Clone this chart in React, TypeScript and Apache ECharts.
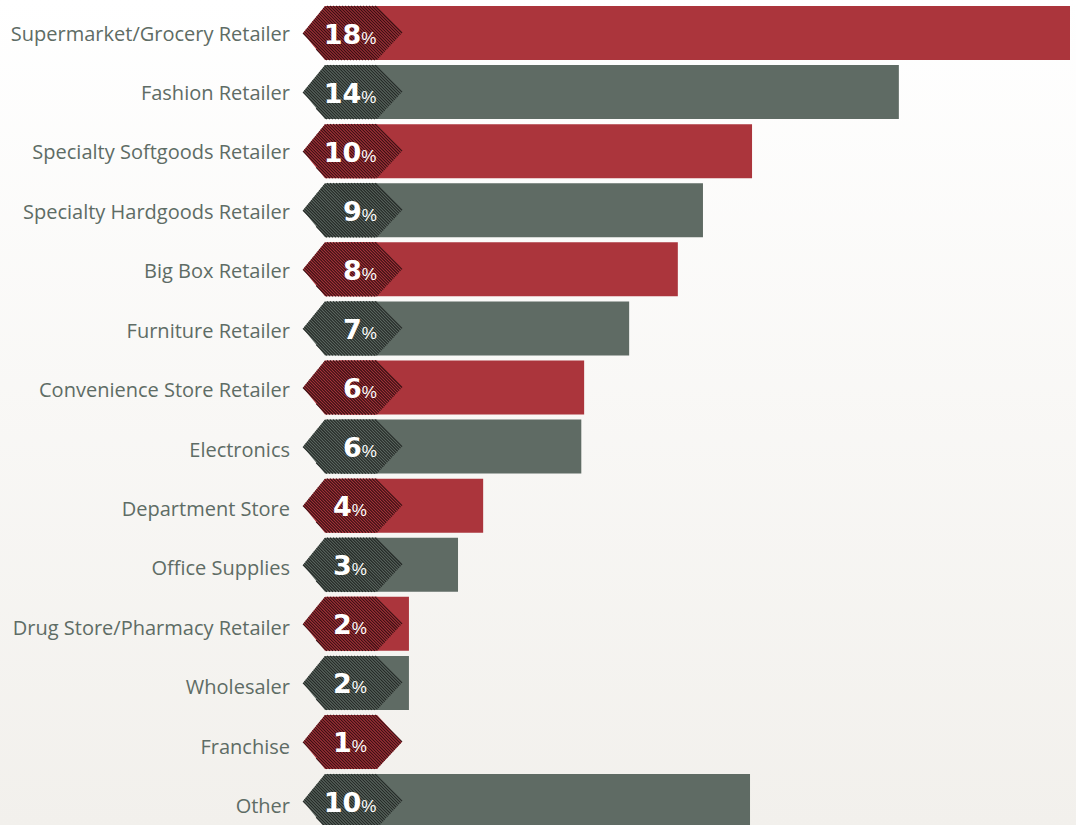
import React, { useEffect, useRef } from "react";
import * as echarts from "echarts";

const categories = [
  "Supermarket/Grocery Retailer",
  "Fashion Retailer",
  "Specialty Softgoods Retailer",
  "Specialty Hardgoods Retailer",
  "Big Box Retailer",
  "Furniture Retailer",
  "Convenience Store Retailer",
  "Electronics",
  "Department Store",
  "Office Supplies",
  "Drug Store/Pharmacy Retailer",
  "Wholesaler",
  "Franchise",
  "Other",
];
// estimated underlying shares (bar lengths)
const values = [18.0, 13.78, 10.16, 8.95, 8.33, 7.13, 6.02, 5.95, 3.53, 2.91, 1.7, 1.7, 0.9, 10.11];
// rounded labels shown on the badges
const labels = ["18", "14", "10", "9", "8", "7", "6", "6", "4", "3", "2", "2", "1", "10"];

// layout-only: horizontal nudge of badge text per row (px)
const BADGE_TEXT_SHIFT = [0, 0, 0, 10, 10, 10, 10, 10, 0, 0, 0, 0, 0, 0];

const RED = "#ab353c";
const GRAY = "#5f6b64";
const RED_DARK = "#3a1013";
const GRAY_DARK = "#242926";

function clipLine(p0: number[], d: number[], poly: number[][]) {
  let tmin = -1e9;
  let tmax = 1e9;
  const cx = poly.reduce((s, p) => s + p[0], 0) / poly.length;
  const cy = poly.reduce((s, p) => s + p[1], 0) / poly.length;
  for (let i = 0; i < poly.length; i++) {
    const a = poly[i];
    const b = poly[(i + 1) % poly.length];
    let nx = -(b[1] - a[1]);
    let ny = b[0] - a[0];
    if (nx * (cx - a[0]) + ny * (cy - a[1]) < 0) {
      nx = -nx;
      ny = -ny;
    }
    const num = nx * (p0[0] - a[0]) + ny * (p0[1] - a[1]);
    const den = nx * d[0] + ny * d[1];
    if (Math.abs(den) < 1e-9) {
      if (num < 0) return null;
      continue;
    }
    const t = -num / den;
    if (den > 0) tmin = Math.max(tmin, t);
    else tmax = Math.min(tmax, t);
  }
  if (tmax <= tmin) return null;
  return [
    [p0[0] + d[0] * tmin, p0[1] + d[1] * tmin],
    [p0[0] + d[0] * tmax, p0[1] + d[1] * tmax],
  ];
}

export default function App() {
  const ref = useRef<HTMLDivElement>(null);
  useEffect(() => {
    if (!ref.current) return;
    const chart = echarts.init(ref.current, null, { renderer: "svg" });
    const band = 59.08;
    const option: any = {
      animation: false,
      grid: { left: 340, right: 6, top: 3.46, height: band * categories.length, containLabel: false },
      xAxis: { type: "value", min: 0, max: 18, show: false },
      yAxis: {
        type: "category",
        data: categories,
        inverse: true,
        axisLine: { show: false },
        axisTick: { show: false },
        axisLabel: { show: false },
      },
      series: [
        {
          type: "bar",
          data: values.map((v, i) => ({ value: v, itemStyle: { color: i % 2 === 0 ? RED : GRAY } })),
          barWidth: 54,
          silent: true,
          z: 2,
        },
        {
          type: "custom",
          data: categories.map((c, i) => [0, i]),
          encode: { x: 0, y: 1 },
          clip: false,
          silent: true,
          z: 10,
          renderItem: (params: any, api: any) => {
            const i = api.value(1);
            const pt = api.coord([0, i]);
            const x0 = pt[0] - 37;
            const cy = pt[1];
            const h = 27;
            const poly = [
              [x0, cy],
              [x0 + 22, cy - h],
              [x0 + 74, cy - h],
              [x0 + 99, cy],
              [x0 + 74, cy + h],
              [x0 + 22, cy + h],
            ];
            const isRed = i % 2 === 0;
            const children: any[] = [
              { type: "polygon", shape: { points: poly }, style: { fill: isRed ? RED : GRAY } },
            ];
            const minX = x0, maxX = x0 + 99, minY = cy - h, maxY = cy + h;
            for (let k = minX - maxY; k <= maxX - minY; k += 3) {
              const seg = clipLine([k + minY, minY], [1, 1], poly);
              if (!seg) continue;
              children.push({
                type: "line",
                shape: { x1: seg[0][0], y1: seg[0][1], x2: seg[1][0], y2: seg[1][1] },
                style: { stroke: isRed ? RED_DARK : GRAY_DARK, lineWidth: 1.15 },
              });
            }
            children.push({
              type: "text",
              style: {
                text: `{a|${labels[i]}}{b|%}`,
                x: x0 + 47 + BADGE_TEXT_SHIFT[i],
                y: cy + 1,
                align: "center",
                verticalAlign: "middle",
                rich: {
                  a: { fontFamily: "DejaVu Sans", fontWeight: "bold", fontSize: 27, fill: "#ffffff", color: "#ffffff" },
                  b: { fontFamily: "Liberation Sans", fontSize: 17, fill: "#ffffff", color: "#ffffff", padding: [8, 0, 0, 0] },
                },
              },
            });
            // category label on the left
            children.push({
              type: "text",
              style: {
                text: categories[i],
                x: x0 - 13,
                y: cy + i * 0.36,
                align: "right",
                verticalAlign: "middle",
                fontFamily: "Open Sans",
                fontSize: 20,
                fill: "#5e6c65",
              },
            });
            return { type: "group", children };
          },
        },
      ],
    };
    chart.setOption(option);
    return () => chart.dispose();
  }, []);
  return (
    <div
      style={{
        position: "absolute",
        left: 0,
        top: 0,
        width: 1076,
        height: 825,
        overflow: "hidden",
        background: "linear-gradient(#ffffff 0%, #f2f0ec 100%)",
      }}
    >
      <div ref={ref} style={{ width: 1076, height: 845 }} />
    </div>
  );
}
